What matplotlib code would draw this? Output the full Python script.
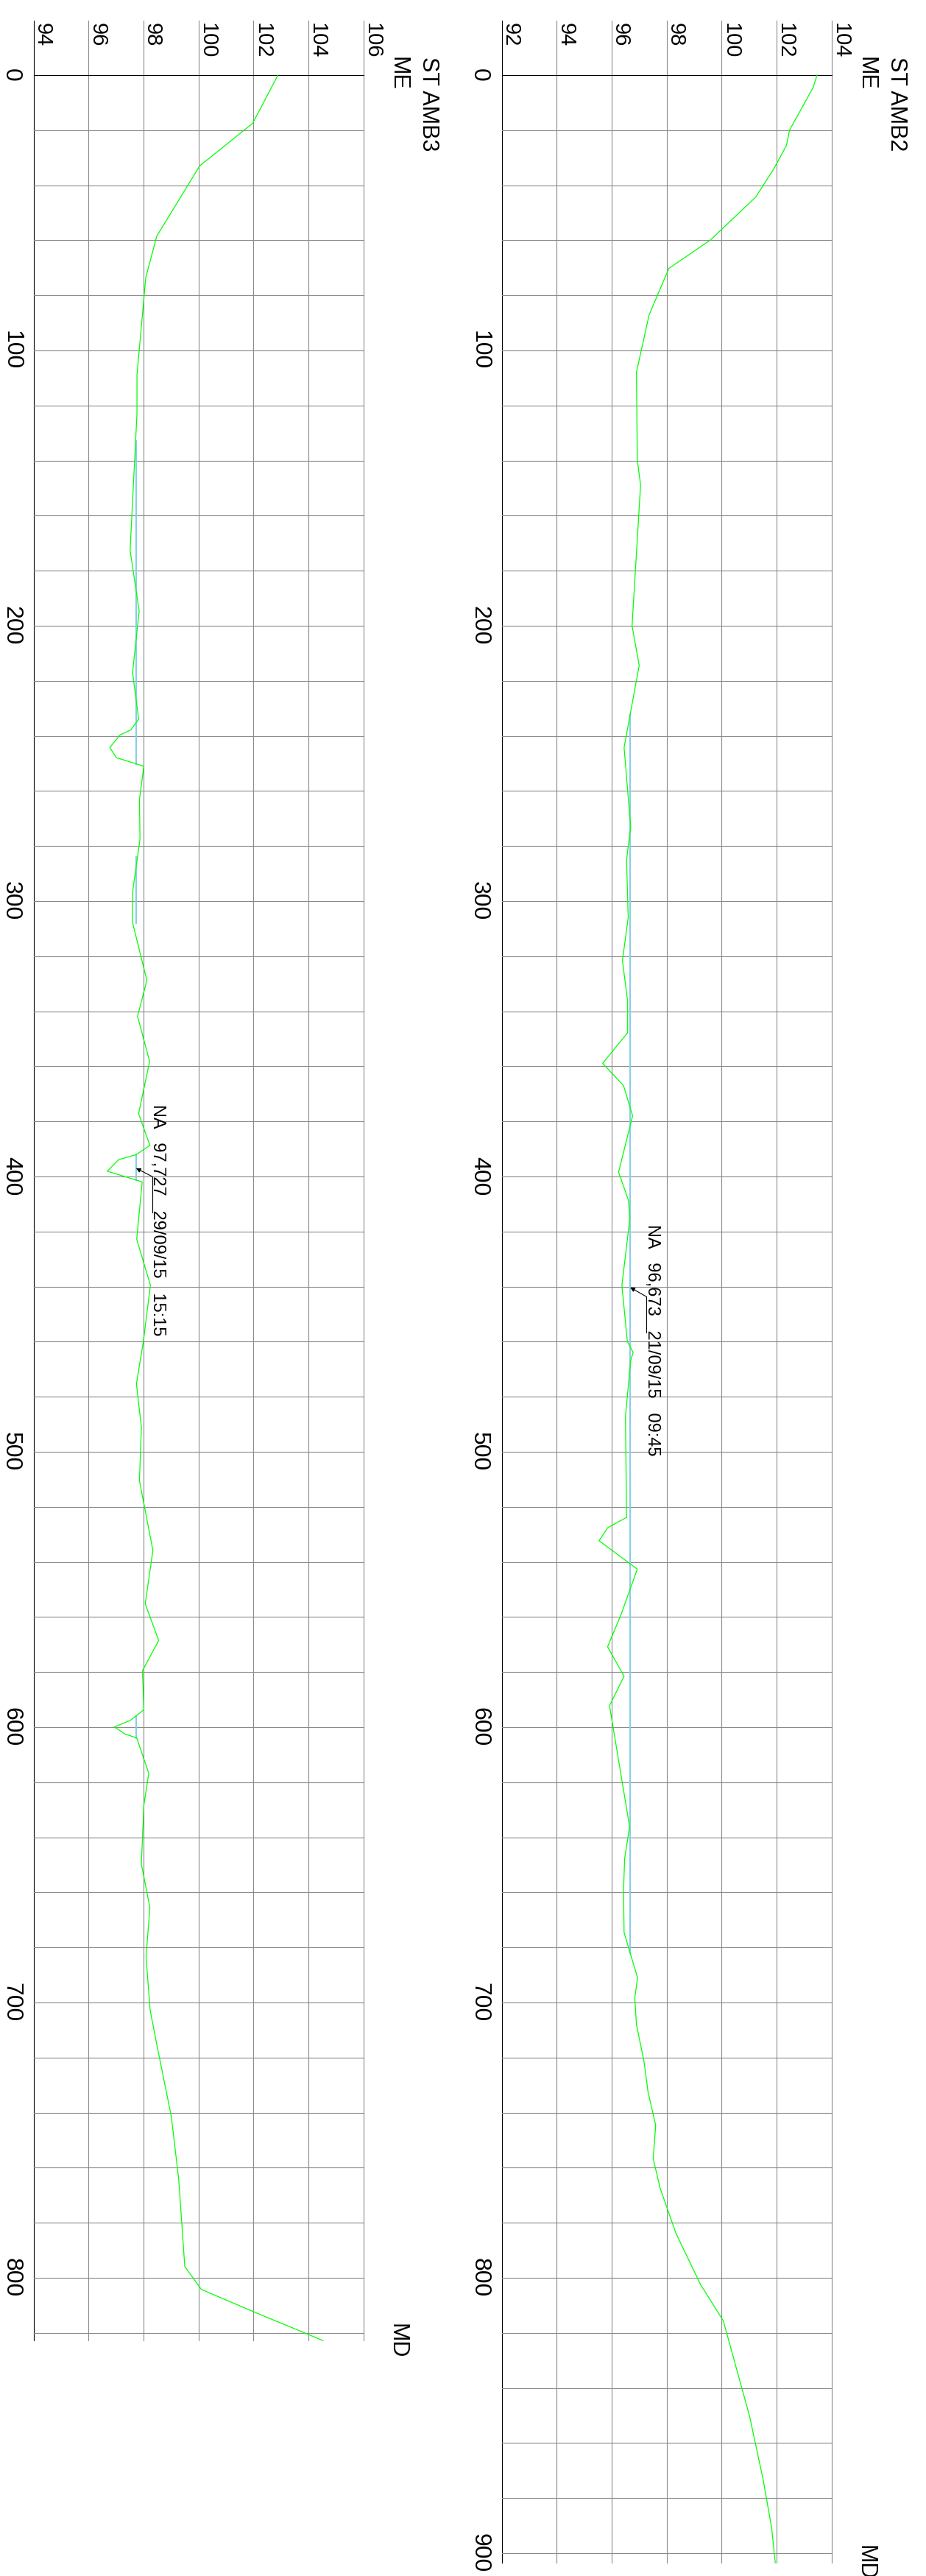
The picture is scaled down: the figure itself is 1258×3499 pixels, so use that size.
import matplotlib
matplotlib.use('Agg')
import matplotlib.pyplot as plt

plt.rcParams['font.family'] = ['Liberation Sans', 'DejaVu Sans']

# ST AMB2: measured depth (MD) and elevation (ME)
md_amb2 = [0, 4.5, 20, 25.5, 34, 44.3, 59.9, 70.2, 87.1, 107.9, 139.6, 148.9, 200, 214.4,
           244.2, 273.1, 285, 306, 321.6, 336.5, 347.8, 358.9, 367, 378, 398.4, 408.7,
           415.3, 439.6, 460, 463.9, 466.8, 487.2, 523.8, 527.6, 532.3, 542.6, 559.1,
           570.8, 581.5, 592.2, 636.1, 647.8, 659.5, 674.6, 691, 698.3, 708, 721.7,
           732.4, 744.6, 756.7, 767.4, 783.9, 802.4, 815.6, 850.4, 873.3, 890.8, 903.5]
me_amb2 = [103.47, 103.33, 102.47, 102.36, 101.9, 101.24, 99.59, 98.08, 97.36, 96.90,
           96.93, 97.05, 96.74, 97.0, 96.45, 96.69, 96.54, 96.6, 96.39, 96.58, 96.58,
           95.67, 96.43, 96.76, 96.25, 96.61, 96.66, 96.37, 96.57, 96.78, 96.69, 96.50,
           96.54, 95.85, 95.54, 96.93, 96.34, 95.85, 96.45, 95.92, 96.65, 96.47, 96.43,
           96.45, 96.94, 96.84, 96.9, 97.18, 97.32, 97.60, 97.51, 97.76, 98.34, 99.23,
           100.06, 101.02, 101.51, 101.82, 101.95]

# ST AMB3
md_amb3 = [0, 17.5, 33, 58.5, 73.5, 109, 123, 172.6, 194.6, 217, 233.9, 237.8, 239.7,
           244.2, 247.9, 251, 263, 277.6, 296, 307.4, 328.8, 341.8, 358.2, 377.2, 388.7,
           392.1, 393.9, 398.1, 401.3, 402, 422.8, 439.5, 460.1, 475.3, 491.1, 510.5,
           535.8, 555.2, 568.5, 579.5, 593.7, 597.6, 599.9, 602.5, 603.9, 616.8, 628.3,
           649.8, 665.5, 683.4, 702.8, 715.7, 741.4, 764.3, 795.9, 804.2, 812.3, 820.2,
           822.8]
me_amb3 = [102.89, 101.97, 100.04, 98.48, 98.08, 97.76, 97.76, 97.51, 97.84, 97.6, 97.82,
           97.54, 97.14, 96.77, 97.01, 98.01, 97.85, 97.87, 97.61, 97.59, 98.12, 97.78,
           98.22, 97.82, 98.23, 97.73, 97.09, 96.68, 97.73, 97.95, 97.75, 98.25, 97.99,
           97.74, 97.92, 97.85, 98.34, 98.06, 98.55, 97.96, 98.01, 97.51, 96.94, 97.32,
           97.75, 98.19, 98.01, 97.92, 98.23, 98.09, 98.24, 98.49, 99.01, 99.28, 99.50,
           100.10, 102.0, 103.91, 104.53]

# water level (NA) readings and the depth spans where the NA line is drawn
na_amb2 = 96.673
na_amb2_spans = [(232, 682)]
na_amb2_text = 'NA   96,673   21/09/15   09:45'
na_amb3 = 97.727
na_amb3_spans = [(133, 250.4), (284, 308), (392.1, 401.3), (596, 604)]
na_amb3_text = 'NA   97,727   29/09/15   15:15'

W, H = 1258, 3499
PX_ME = 2 / 74.67   # ME units per pixel
PX_MD = 20 / 74.8   # MD units per pixel
GRID = '#8a8a8a'

fig = plt.figure(figsize=(W / 100, H / 100), dpi=100)


def add_panel(x0, md_end, vmin, vmax):
    y0 = 102
    y1 = y0 + md_end / PX_MD
    x1 = x0 + (vmax - vmin) / PX_ME
    ax = fig.add_axes([x0 / W, 1 - y1 / H, (x1 - x0) / W, (y1 - y0) / H])
    ax.set_xlim(vmin, vmax)
    ax.set_ylim(md_end, 0)
    ax.axis('off')
    return ax


def draw_panel(ax, md, me, vmin, vmax, md_end, name, md_ticks,
               na, spans, note, note_xy, knee, tip):
    # grid
    top = -74 * PX_MD
    for v in range(vmin, vmax + 1, 2):
        c = 'black' if v == vmin else GRID
        ax.plot([v, v], [top, md_end], color=c, lw=0.8, clip_on=False, zorder=1)
        ax.text(v + 4 * PX_ME, -71 * PX_MD, str(v), rotation=-90, rotation_mode='anchor',
                ha='left', va='baseline', fontsize=21, clip_on=False)
    m = 0
    while m <= md_end:
        c = 'black' if m == 0 else GRID
        ax.plot([vmin, vmax], [m, m], color=c, lw=0.8, clip_on=False, zorder=1)
        m += 20
    for t in md_ticks:
        ax.text(vmin - 38.5 * PX_ME, t, str(t), rotation=-90, rotation_mode='anchor',
                ha='center', va='baseline', fontsize=23, clip_on=False)

    ax.text(vmax + 38.7 * PX_ME, -25 * PX_MD, 'ME', rotation=-90, rotation_mode='anchor',
            ha='left', va='baseline', fontsize=22, clip_on=False)
    ax.text(vmax + 80.7 * PX_ME, -25 * PX_MD, name, rotation=-90, rotation_mode='anchor',
            ha='left', va='baseline', fontsize=22, clip_on=False)
    ax.text(vmax + 37.5 * PX_ME, md_end, 'MD', rotation=-90, rotation_mode='anchor',
            ha='center', va='baseline', fontsize=22, clip_on=False)

    # water level line segments
    for a, b in spans:
        ax.plot([na, na], [a, b], color='#87ceeb', lw=1.5, zorder=2)

    # profile
    ax.plot(me, md, color='#00ff00', lw=0.9, zorder=3, clip_on=False)

    # water level note with leader
    ax.text(note_xy[0], note_xy[1], note, rotation=-90, rotation_mode='anchor',
            ha='left', va='baseline', fontsize=17, clip_on=False)
    ax.plot([knee[0], knee[0]], [knee[1], knee[1] + 13], color='black', lw=0.8, zorder=4)
    ax.annotate('', xy=tip, xytext=knee,
                arrowprops=dict(arrowstyle='-|>', lw=0.8, color='black',
                                mutation_scale=9, shrinkA=0, shrinkB=0), zorder=4)


ax2 = add_panel(681.7, 903.5, 92, 104)
draw_panel(ax2, md_amb2, me_amb2, 92, 104, 903.5, 'ST AMB2', list(range(0, 901, 100)),
           na_amb2, na_amb2_spans, na_amb2_text, (97.31, 417.4), (97.27, 443.7),
           (na_amb2, 440.3))

ax3 = add_panel(45.7, 822.8, 94, 106)
draw_panel(ax3, md_amb3, me_amb3, 94, 106, 822.8, 'ST AMB3', list(range(0, 801, 100)),
           na_amb3, na_amb3_spans, na_amb3_text, (98.35, 373.8), (98.31, 400.0),
           (na_amb3, 397.0))

fig.savefig('out.png', dpi=100)
